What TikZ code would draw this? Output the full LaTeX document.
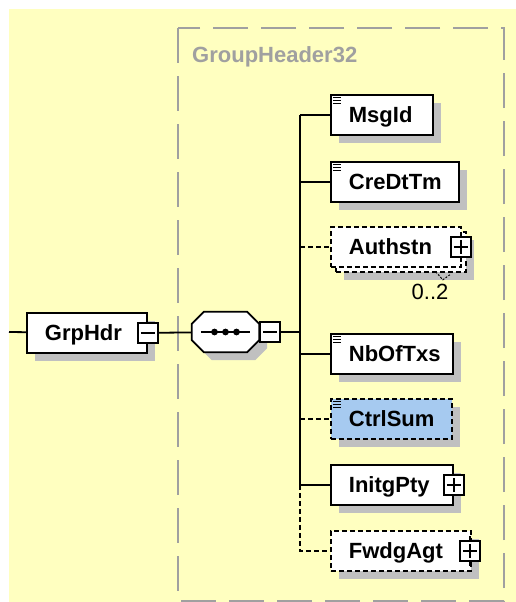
\documentclass[tikz,border=0pt]{standalone}
\usepackage{fontspec}
\setmainfont{Liberation Sans}
\usetikzlibrary{shadows}
\definecolor{bg}{HTML}{FFFFC0}
\definecolor{shade}{HTML}{C0C0C0}
\definecolor{grp}{HTML}{A0A0A0}
\definecolor{pick}{HTML}{A6CAF0}
\tikzset{
  wire/.style={line width=1.8pt},
  opt/.style={dash pattern=on 5pt off 3pt},
  shd/.style={general shadow={fill=shade,shadow xshift=#1,shadow yshift=-#1}},
  back/.style={general shadow={draw,fill=white,line width=1.8pt,opt,shadow xshift=5pt,shadow yshift=-5pt}},
  elem/.style={draw,fill=white,line width=1.8pt,anchor=north west,
    inner xsep=18pt,inner ysep=0pt,minimum height=40pt,align=left,
    text height=19pt,text depth=3pt,font=\bfseries\fontsize{22pt}{26pt}\selectfont},
  icon/.style={draw,fill=white,line width=1.6pt,minimum size=20pt,inner sep=0pt},
  minus/.style={icon,path picture={
    \draw[line width=1.6pt] ([xshift=3pt]path picture bounding box.west) -- ([xshift=-3pt]path picture bounding box.east);}},
  plus/.style={icon,path picture={
    \draw[line width=1.6pt] ([xshift=3pt]path picture bounding box.west) -- ([xshift=-3pt]path picture bounding box.east);
    \draw[line width=1.6pt] ([yshift=-3pt]path picture bounding box.north) -- ([yshift=3pt]path picture bounding box.south);}}
}
% three little lines of a simple type
\newcommand\simplemark[1]{\foreach \d in {3pt,6pt,9pt}
  \draw[line width=1pt] ([shift={(3pt,-\d)}]#1.north west) -- ++(8,0);}

\begin{document}
\begin{tikzpicture}[x=1pt,y=-1pt]
  \useasboundingbox (0,0) rectangle (516,602);
  \fill[bg] (9,9) rectangle (516,602);
  % the complex type
  \draw[grp,line width=2pt,dash pattern=on 35pt off 13pt] (178,28) rectangle (504,601);
  \node[anchor=base west,inner sep=0pt,text=grp,font=\bfseries\fontsize{22pt}{26pt}\selectfont] (title) at (192,63) {GroupHeader32};

  \node[elem,shd=8pt,text width=84pt] (grphdr) at (26,312) {GrpHdr};
  \node[minus] (grpicon) at (grphdr.east) {};
  % sequence compositor
  \node[minimum width=67pt,minimum height=40pt,inner sep=0pt] (seq) at (225.5,332) {};
  \draw[wire,fill=white,shd=8pt] ([xshift=12pt]seq.north west) -- ([xshift=-12pt]seq.north east)
    -- ([yshift=-12pt]seq.north east) -- ([yshift=12pt]seq.south east)
    -- ([xshift=-12pt]seq.south east) -- ([xshift=12pt]seq.south west)
    -- ([yshift=12pt]seq.south west) -- ([yshift=-12pt]seq.north west) -- cycle;
  \draw[wire] ([xshift=9pt]seq.west) -- ([xshift=-9pt]seq.east);
  \foreach \dx in {-11pt,0pt,11pt}
    \fill ([xshift=\dx]seq.center) circle[radius=3.4pt];
  \node[minus] (seqicon) at (270,332) {};

  % children
  \node[elem,shd=8pt,text width=66pt] (msgid) at (330,94) {MsgId};
  \node[elem,shd=8pt,text width=92pt] (credt) at (330,161) {CreDtTm};
  \node[elem,opt,shd=13pt,back,text width=94pt] (authstn) at (330,226) {Authstn};
  \node[plus] (aicon) at ([xshift=-1pt]authstn.east) {};
  \node[elem,shd=8pt,text width=86pt] (nboftxs) at (330,333) {NbOfTxs};
  \node[elem,opt,fill=pick,shd=8pt,text width=85pt] (ctrlsum) at (330,398) {CtrlSum};
  \node[elem,shd=8pt,text width=86pt] (initg) at (330,464) {InitgPty};
  \node[plus] (iicon) at (initg.east) {};
  \node[elem,opt,shd=8pt,text width=104pt] (fwdg) at (330,530) {FwdgAgt};
  \node[plus] (ficon) at ([xshift=-2pt]fwdg.east) {};
  \foreach \n in {msgid,credt,nboftxs,ctrlsum}
    \simplemark{\n}
  \foreach \n in {aicon,ficon}
    \draw[line width=1.6pt] (\n.north) -- ++(0,-4) (\n.south) -- ++(0,4);

  \node[font=\fontsize{22pt}{26pt}\selectfont,inner sep=0pt] (occ) at (430,292) {0..2};
  \draw[line width=1pt,dash pattern=on 2pt off 1.5pt] ([shift={(-26pt,-4pt)}]authstn.south east) -- ++(7,8) -- ++(7,-5);

  % connectors
  \coordinate (in) at (9,332);
  \coordinate (spine) at (300,0);
  \draw[wire] (in) -- (grphdr);
  \draw[wire] (grpicon) -- (seq);
  \draw[wire] (seqicon) -- (seqicon -| spine);
  \draw[wire] (msgid.west -| spine) -- (initg.west -| spine);
  \foreach \n in {msgid,credt,nboftxs,initg}
    \draw[wire] (\n.west -| spine) -- (\n);
  \foreach \n in {authstn,ctrlsum}
    \draw[wire,opt] (\n.west -| spine) -- (\n);
  \draw[wire,opt] (initg.west -| spine) |- (fwdg);
\end{tikzpicture}
\end{document}
